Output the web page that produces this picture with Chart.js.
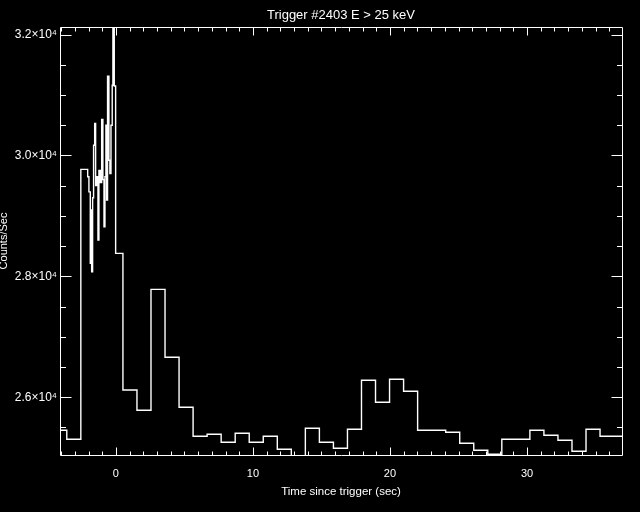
<!DOCTYPE html>
<html>
<head>
<meta charset="utf-8">
<title>Trigger #2403</title>
<script src="https://cdn.jsdelivr.net/npm/chart.js@4.4.0/dist/chart.umd.min.js"></script>
<style>
  html, body { margin: 0; padding: 0; background: #000; }
  canvas { display: block; }
</style>
</head>
<body>
<canvas id="lc" width="640" height="512"></canvas>
<script>
// Left edge of each time bin (sec since trigger)
const binStart = [
  -4.608, -3.584, -2.560,
  -2.06, -1.97, -1.87, -1.82, -1.77, -1.70, -1.63, -1.55, -1.48, -1.41,
  -1.31, -1.24, -1.14, -1.04, -0.95, -0.87, -0.80, -0.73, -0.68, -0.61,
  -0.51, -0.44, -0.36, -0.27, -0.22, -0.12, -0.02,
  0.512, 1.536, 2.560, 3.584, 4.608, 5.632, 6.656, 7.680, 8.704, 9.728,
  10.752, 11.776, 12.800, 13.824, 14.848, 15.872, 16.896, 17.920, 18.944, 19.968,
  20.992, 22.016, 23.040, 24.064, 25.088, 26.112, 27.136, 28.160, 29.184, 30.208,
  31.232, 32.256, 33.280, 34.304, 35.328, 36.352
];
const lastEdge = 37.376;

// Counts/Sec in each bin
const countRate = [
  25455, 25306, 29769,
  29648, 29398, 28215, 29100, 28076, 29300, 30170, 30529, 29504, 29648,
  28600, 29750, 29550, 30595, 29600, 28820, 29650, 30500, 29261, 31311,
  29922, 29700, 30500, 31162, 32400, 31150, 28380,
  26121, 25785, 27785, 26661, 25835, 25355, 25388, 25256, 25405, 25256,
  25355, 25140, 24900, 25488, 25256, 25157, 25471, 26281, 25917, 26298,
  26099, 25455, 25455, 25421, 25240, 25124, 25058, 25306, 25306, 25455,
  25372, 25289, 25107, 25471, 25355, 25355
];

// axis labels
const xMajor = [0, 10, 20, 30];
const yMajor = [26000, 28000, 30000, 32000];
const yLabels = ['2.6\u00d710\u2074', '2.8\u00d710\u2074', '3.0\u00d710\u2074', '3.2\u00d710\u2074'];

const FONT = 'Liberation Sans';

// histogram points: value holds until next edge
const points = binStart.map((t, i) => ({ x: t, y: countRate[i] }));
points.push({ x: lastEdge, y: countRate[countRate.length - 1] });

// tick positions every `step` inside the axis range
function stepTicks(scale, step) {
  const out = [];
  for (let v = Math.ceil(scale.min / step) * step; v <= scale.max; v += step) {
    out.push({ value: Math.round(v * 1000) / 1000 });
  }
  scale.ticks = out;
}

// black page + IDL style box with inward ticks on all four sides
const frame = {
  id: 'frame',
  beforeDraw(chart) {
    const ctx = chart.ctx;
    ctx.save();
    ctx.fillStyle = '#000';
    ctx.fillRect(0, 0, chart.width, chart.height);
    ctx.restore();
  },
  afterDatasetsDraw(chart) {
    const { ctx, chartArea: a, scales: { x, y } } = chart;
    const L = Math.round(a.left) + 0.5, R = Math.round(a.right) + 0.5;
    const T = Math.round(a.top) + 0.5, B = Math.round(a.bottom) + 0.5;
    ctx.save();
    ctx.strokeStyle = '#fff';
    ctx.lineWidth = 1;
    ctx.beginPath();
    ctx.rect(L, T, R - L, B - T);
    y.ticks.forEach(tk => {
      const py = Math.round(y.getPixelForValue(tk.value)) + 0.5;
      const len = yMajor.includes(tk.value) ? 11 : 5.5;
      ctx.moveTo(L, py); ctx.lineTo(L + len, py);
      ctx.moveTo(R, py); ctx.lineTo(R - len, py);
    });
    x.ticks.forEach(tk => {
      const px = Math.round(x.getPixelForValue(tk.value)) + 0.5;
      const len = tk.value % 10 === 0 ? 8 : 4;
      ctx.moveTo(px, B); ctx.lineTo(px, B - len);
      ctx.moveTo(px, T); ctx.lineTo(px, T + len);
    });
    ctx.stroke();
    ctx.restore();
  }
};

new Chart(document.getElementById('lc'), {
  type: 'line',
  data: {
    datasets: [{
      data: points,
      stepped: true,
      borderColor: '#fff',
      borderWidth: 1.4,
      pointRadius: 0,
      fill: false
    }]
  },
  options: {
    responsive: false,
    animation: false,
    layout: { padding: { left: 0, right: 18, top: 0, bottom: 0 } },
    plugins: {
      legend: { display: false },
      tooltip: { enabled: false },
      title: {
        display: true,
        text: 'Trigger #2403 E > 25 keV',
        color: '#fff',
        fullSize: false,
        font: { family: FONT, size: 13, weight: 'normal' },
        padding: { top: 7.6, bottom: 3.8 }
      }
    },
    scales: {
      x: {
        type: 'linear',
        min: -4.08,
        max: 36.93,
        afterFit: s => { s.height = 57; },
        afterBuildTicks: s => stepTicks(s, 1),
        grid: { display: false, drawTicks: false },
        border: { display: false },
        ticks: {
          autoSkip: false,
          maxRotation: 0,
          padding: 12.4,
          color: '#fff',
          font: { family: FONT, size: 11 },
          callback: v => (xMajor.includes(v) ? String(v) : '')
        },
        title: {
          display: true,
          text: 'Time since trigger (sec)',
          color: '#fff',
          font: { family: FONT, size: 11.5 },
          padding: { top: 0, bottom: 12.8 }
        }
      },
      y: {
        type: 'linear',
        min: 25045,
        max: 32125,
        afterFit: s => { s.width = 60; },
        afterBuildTicks: s => stepTicks(s, 500),
        grid: { display: false, drawTicks: false },
        border: { display: false },
        ticks: {
          autoSkip: false,
          padding: 3,
          color: '#fff',
          font: { family: FONT, size: 12 },
          callback: v => {
            const i = yMajor.indexOf(v);
            return i >= 0 ? yLabels[i] : '';
          }
        },
        title: {
          display: true,
          text: 'Counts/Sec',
          color: '#fff',
          font: { family: FONT, size: 11, lineHeight: 0.8 },
          padding: 0
        }
      }
    }
  },
  plugins: [frame]
});
</script>
</body>
</html>
